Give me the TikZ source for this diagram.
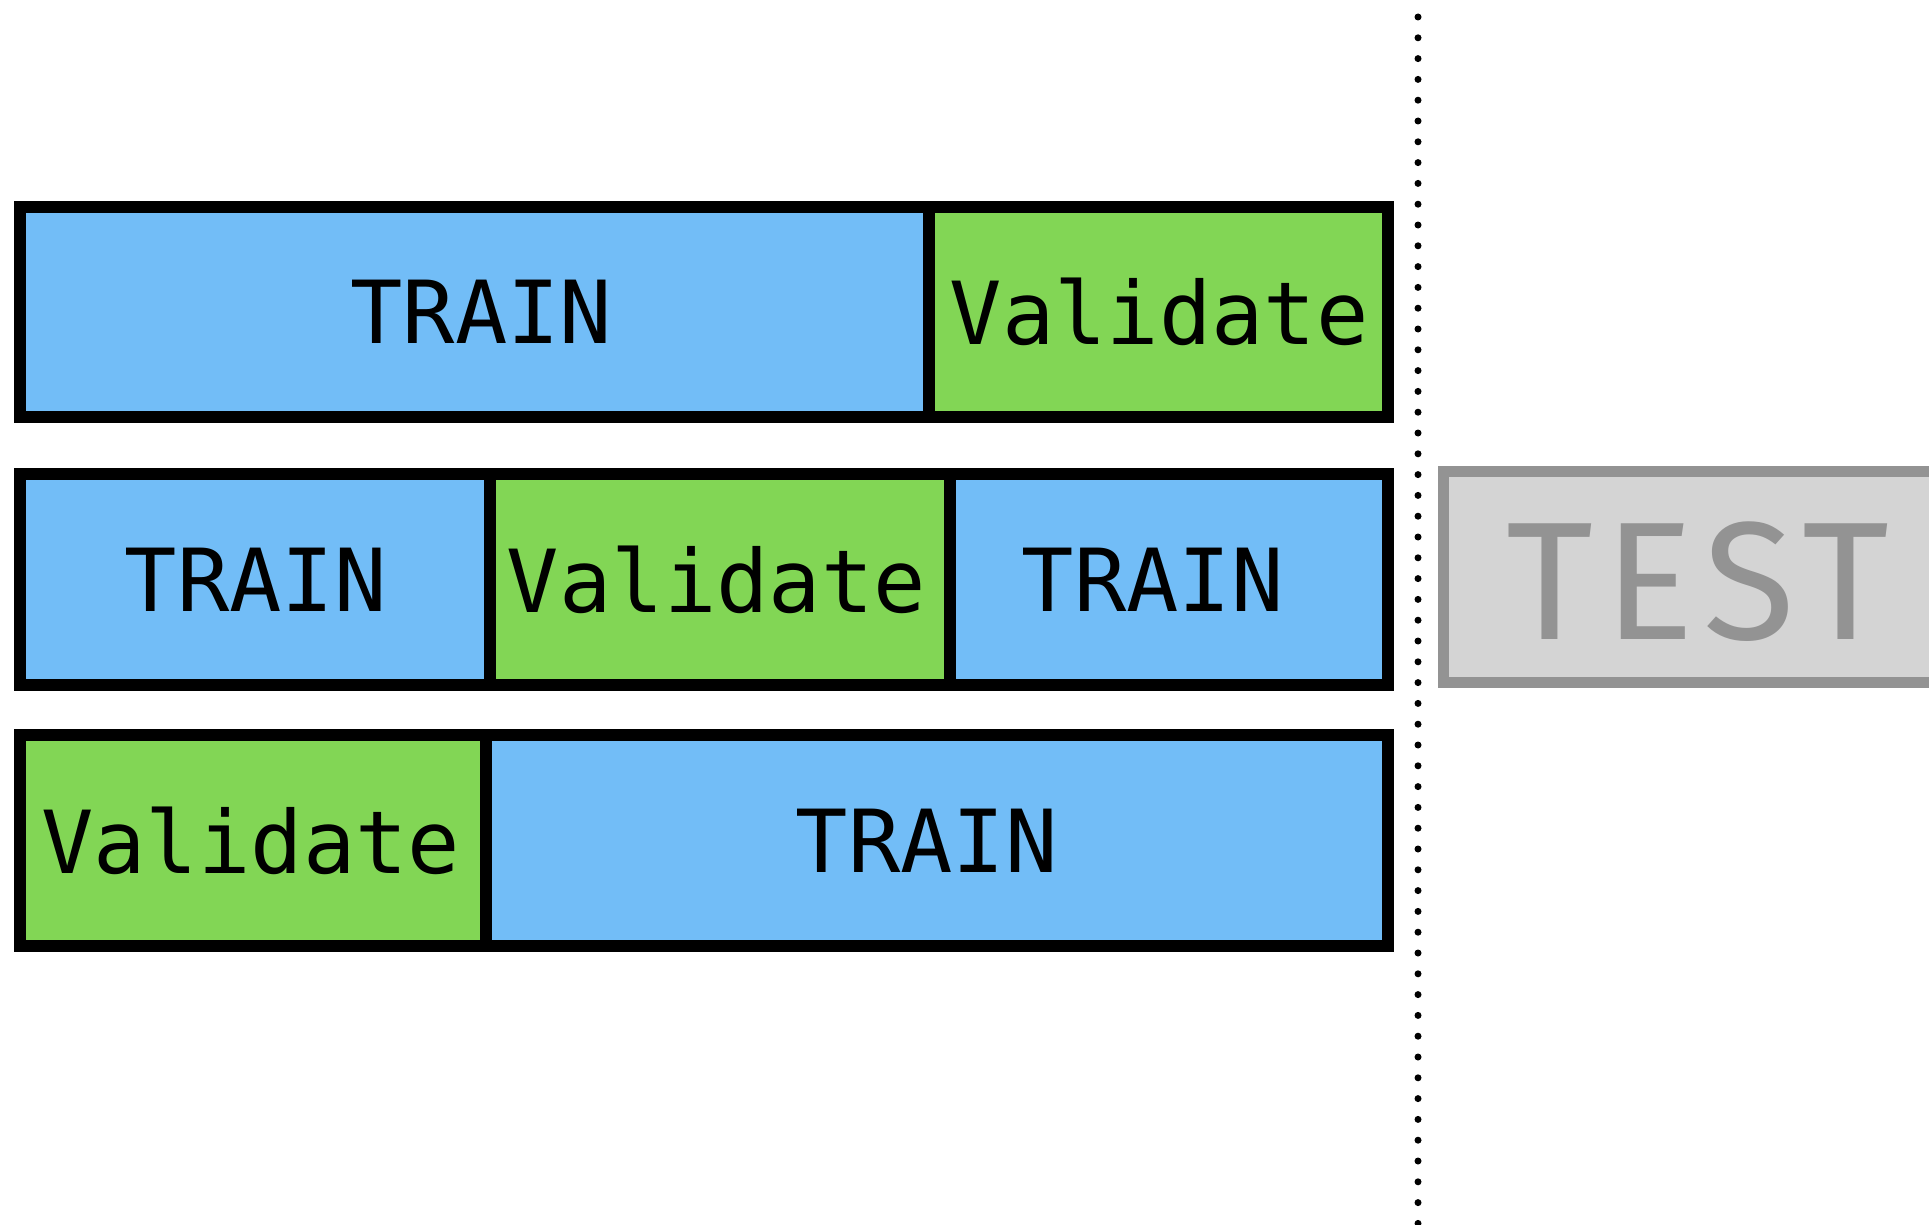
\documentclass[tikz,border=0pt]{standalone}
\usepackage{fontspec}
\setmonofont{DejaVu Sans Mono}
\newfontfamily\testfont[LetterSpace=6.5]{Fira Sans}
\definecolor{trainblue}{RGB}{114,189,247}
\definecolor{valgreen}{RGB}{130,214,85}
\definecolor{testfill}{RGB}{212,212,212}
\definecolor{testgray}{RGB}{147,147,147}
\begin{document}
\begin{tikzpicture}[x=1pt,y=-1pt,
  seg/.style={draw=black, line width=12pt, inner sep=0pt, outer sep=0pt},
  trainseg/.style={seg, fill=trainblue},
  valseg/.style={seg, fill=valgreen},
  lbl/.style={font=\ttfamily\fontsize{87}{100}\selectfont, text=black, inner sep=0pt},
  testbox/.style={draw=testgray, fill=testfill, line width=11pt, inner sep=0pt, outer sep=0pt},
  testlbl/.style={font=\testfont\fontsize{168}{180}\selectfont, text=testgray, inner sep=0pt}
]
\clip (0,0) rectangle (1929,1225);
\fill[white] (0,0) rectangle (1929,1225);

% Row 1
\node[trainseg, minimum width=908.5pt, minimum height=210pt,
  label={[lbl,xshift=7pt]center:TRAIN}] (r1a) at (474.25,312) {};
\node[valseg, minimum width=459.5pt, minimum height=210pt,
  label={[lbl,xshift=1pt]center:Validate}] (r1b) at (1158.25,312) {};

% Row 2
\node[trainseg, minimum width=469.5pt, minimum height=211pt,
  label={[lbl,xshift=1pt]center:TRAIN}] (r2a) at (254.75,579.5) {};
\node[valseg, minimum width=460pt, minimum height=211pt,
  label={[lbl,xshift=-3pt]center:Validate}] (r2b) at (719.5,579.5) {};
\node[trainseg, minimum width=438.5pt, minimum height=211pt,
  label={[lbl,xshift=-16pt]center:TRAIN}] (r2c) at (1168.75,579.5) {};

% Row 3
\node[valseg, minimum width=465.5pt, minimum height=211pt,
  label={[lbl,xshift=-2pt]center:Validate}] (r3a) at (252.75,840.5) {};
\node[trainseg, minimum width=902.5pt, minimum height=211pt,
  label={[lbl,xshift=-10pt]center:TRAIN}] (r3b) at (936.75,840.5) {};

% Test box
\node[testbox, minimum width=600pt, minimum height=211pt] (test) at (1743,576.5) {};
\node[testlbl] (testtext) at (1698,582) {TEST};

% Dotted separator
\coordinate (sepTop) at (1418,17);
\coordinate (sepBot) at (1418,1240);
\draw[line width=7pt, line cap=round, dash pattern=on 0pt off 20.8pt] (sepTop) -- (sepBot);
\end{tikzpicture}
\end{document}
